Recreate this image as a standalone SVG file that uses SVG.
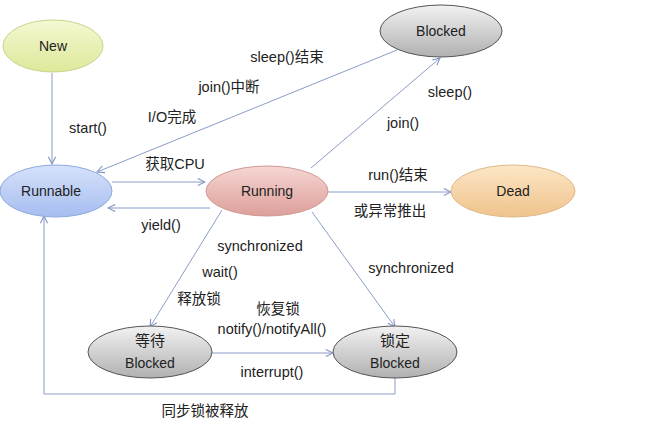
<svg xmlns="http://www.w3.org/2000/svg" width="647" height="428" viewBox="0 0 647 428">
<defs>
<linearGradient id="gNew" x1="0" y1="0" x2="0" y2="1"><stop offset="0" stop-color="#f5f8d2"/><stop offset="1" stop-color="#dde89a"/></linearGradient>
<linearGradient id="gRunnable" x1="0" y1="0" x2="0" y2="1"><stop offset="0" stop-color="#d6e2fa"/><stop offset="1" stop-color="#a6bdf0"/></linearGradient>
<linearGradient id="gRunning" x1="0" y1="0" x2="0" y2="1"><stop offset="0" stop-color="#f6d6d3"/><stop offset="1" stop-color="#dd9f9a"/></linearGradient>
<linearGradient id="gBlocked" x1="0" y1="0" x2="0" y2="1"><stop offset="0" stop-color="#f2f2f2"/><stop offset="1" stop-color="#b0b0b0"/></linearGradient>
<linearGradient id="gDead" x1="0" y1="0" x2="0" y2="1"><stop offset="0" stop-color="#fce6c6"/><stop offset="1" stop-color="#efc38c"/></linearGradient>
<marker id="arr" viewBox="0 0 10 10" refX="9" refY="5" markerWidth="9" markerHeight="9" markerUnits="userSpaceOnUse" orient="auto">
<path d="M1,1 L9,5 L1,9" fill="none" stroke="#8094c4" stroke-width="1.2"/>
</marker>
</defs>
<style>
text{font-family:"Liberation Sans","Noto Sans CJK SC",sans-serif;font-size:14px;fill:#222}
.lbl{font-size:14.5px}
.c{text-anchor:middle}
.edge{fill:none;stroke:#8a9cc8;stroke-width:1;marker-end:url(#arr)}
</style>
<rect width="647" height="428" fill="#ffffff"/>
<g id="connectors">
<line class="edge" x1="52" y1="73" x2="52" y2="164"/>
<line class="edge" x1="397" y1="50" x2="97" y2="172"/>
<line class="edge" x1="311" y1="168" x2="440" y2="58"/>
<line class="edge" x1="112" y1="182" x2="205" y2="182"/>
<line class="edge" x1="210" y1="208" x2="108" y2="208"/>
<line class="edge" x1="328" y1="192" x2="451" y2="192"/>
<line class="edge" x1="222" y1="210" x2="150" y2="327"/>
<line class="edge" x1="312" y1="212" x2="395" y2="327"/>
<line class="edge" x1="212" y1="353" x2="333" y2="353"/>
<polyline class="edge" points="395,378 395,394 44,394 44,216"/>
</g>
<g id="node-new"><ellipse cx="53" cy="46" rx="50" ry="26" fill="url(#gNew)" stroke="#c8d48a" stroke-width="1"/><text class="c" x="53" y="51">New</text></g>
<g id="node-runnable"><ellipse cx="56" cy="191" rx="56" ry="26" fill="url(#gRunnable)" stroke="#8ea8de" stroke-width="1"/><text class="c" x="51" y="196">Runnable</text></g>
<g id="node-running"><ellipse cx="267" cy="191" rx="61" ry="25" fill="url(#gRunning)" stroke="#cf9a96" stroke-width="1"/><text class="c" x="267" y="196">Running</text></g>
<g id="node-blocked"><ellipse cx="441" cy="31" rx="61" ry="26" fill="url(#gBlocked)" stroke="#555" stroke-width="1"/><text class="c" x="441" y="36">Blocked</text></g>
<g id="node-dead"><ellipse cx="513" cy="191" rx="62" ry="26" fill="url(#gDead)" stroke="#dfb98a" stroke-width="1"/><text class="c" x="513" y="196">Dead</text></g>
<g id="node-wait"><ellipse cx="150" cy="352" rx="62" ry="26" fill="url(#gBlocked)" stroke="#555" stroke-width="1"/><text class="c" x="150" y="346" style="font-size:15px">等待</text><text class="c" x="150" y="368">Blocked</text></g>
<g id="node-lock"><ellipse cx="395" cy="352" rx="62" ry="26" fill="url(#gBlocked)" stroke="#555" stroke-width="1"/><text class="c" x="395" y="346" style="font-size:15px">锁定</text><text class="c" x="395" y="368">Blocked</text></g>
<g id="labels">
<text class="lbl c" x="287" y="62">sleep()结束</text>
<text class="lbl c" x="229" y="92">join()中断</text>
<text class="lbl c" x="172" y="122">I/O完成</text>
<text class="lbl c" x="88" y="133">start()</text>
<text class="lbl c" x="175" y="169">获取CPU</text>
<text class="lbl c" x="450" y="97">sleep()</text>
<text class="lbl c" x="403" y="128">join()</text>
<text class="lbl c" x="398" y="180">run()结束</text>
<text class="lbl c" x="390" y="216">或异常推出</text>
<text class="lbl c" x="161" y="230">yield()</text>
<text class="lbl c" x="260" y="251">synchronized</text>
<text class="lbl c" x="220" y="277">wait()</text>
<text class="lbl c" x="199" y="304">释放锁</text>
<text class="lbl c" x="278" y="314">恢复锁</text>
<text class="lbl c" x="272" y="334">notify()/notifyAll()</text>
<text class="lbl c" x="272" y="377">interrupt()</text>
<text class="lbl c" x="205" y="416">同步锁被释放</text>
<text class="lbl c" x="411" y="273">synchronized</text>
</g>
</svg>
